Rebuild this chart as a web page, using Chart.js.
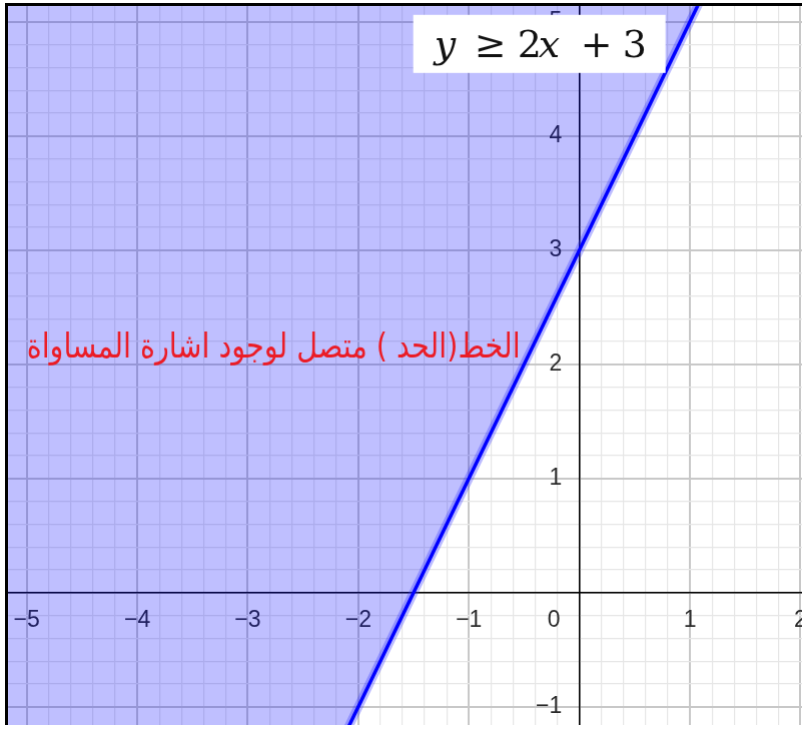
<!DOCTYPE html>
<html>
<head>
<meta charset="utf-8">
<script src="https://cdn.jsdelivr.net/npm/chart.js@4.4.0/dist/chart.umd.min.js"></script>
<style>
    html, body { margin: 0; padding: 0; background: #fff; }
    #frame {
        position: absolute; left: 5px; top: 3px;
        width: 794px; height: 719px; overflow: hidden;
        border-left: 3px solid #000; border-top: 3px solid #000;
    }
    #wrap { position: absolute; left: 0; top: 0; width: 794px; height: 719px; }
    #wrap canvas { display: block; }
</style>
</head>
<body>
<div id="frame"><div id="wrap"><canvas id="chart"></canvas></div></div>
<script>
// boundary line y = 2x + 3, two points taken past the visible window
var boundaryX = [-6, 2.5];
var boundaryY = [-9, 8];

// visible window and grid
var xRange = [-5.172, 2.02];
var yRange = [-1.167, 5.14];
var gridStep = 0.2;

// labelled ticks
var xTickLabels = [-5, -4, -3, -2, -1, 0, 1, 2];
var yTickLabels = [-1, 1, 2, 3, 4, 5];

var noteText = 'الخط(الحد ) متصل لوجود اشارة المساواة';

var FRAME_W = 794, FRAME_H = 719;

var boundaryPoints = boundaryX.map(function (x, i) {
    return {x: x, y: boundaryY[i]};
});

function isMajor(v) {
    return Math.abs(v - Math.round(v)) < 1e-6;
}

function fmt(n) {
    return n < 0 ? '\u2212' + (-n) : String(n);
}

function gridColor(ctx) {
    if (!ctx.tick) return '#e6e6e6';
    return isMajor(ctx.tick.value) ? '#c8c8c8' : '#e6e6e6';
}

function gridWidth(ctx) {
    if (!ctx.tick) return 1;
    return isMajor(ctx.tick.value) ? 2 : 1.2;
}

// title box and red note, drawn on top (positions relative to the plot frame)
var annotations = {
    id: 'annotations',
    afterDraw: function (chart) {
        var ctx = chart.ctx;
        var a = chart.chartArea;
        ctx.save();
        ctx.translate(a.left, a.top);

        ctx.fillStyle = '#fff';
        ctx.fillRect(405, 9, 252, 58);

        var pieces = [
            ['y', 'italic', 426],
            ['\u2265', 'normal', 466],
            ['2', 'normal', 509],
            ['x', 'italic', 530],
            ['+', 'normal', 572],
            ['3', 'normal', 614]
        ];
        ctx.fillStyle = '#111';
        ctx.textBaseline = 'alphabetic';
        ctx.textAlign = 'left';
        pieces.forEach(function (p) {
            ctx.font = p[1] + ' 38px "DejaVu Serif", "Liberation Serif", serif';
            ctx.fillText(p[0], p[2], 51);
        });

        ctx.direction = 'rtl';
        ctx.textAlign = 'right';
        ctx.font = '24px "DejaVu Sans", sans-serif';
        var w = ctx.measureText(noteText).width;
        var size = 24 * 493 / w;
        ctx.font = size.toFixed(2) + 'px "DejaVu Sans", sans-serif';
        ctx.fillStyle = 'rgb(235,28,38)';
        ctx.translate(512, 351);
        ctx.scale(1, 1.2);
        ctx.fillText(noteText, 0, 0);

        ctx.restore();
    }
};

var chart = new Chart(document.getElementById('chart').getContext('2d'), {
    type: 'line',
    data: {
        datasets: [
            {
                data: boundaryPoints,
                borderColor: '#0000ff',
                borderWidth: 3.5,
                pointRadius: 0,
                fill: false,
                order: 1
            },
            {
                data: boundaryPoints,
                borderColor: 'rgba(60,60,255,0.35)',
                borderWidth: 9,
                pointRadius: 0,
                fill: false,
                order: 2
            },
            {
                data: boundaryPoints,
                borderWidth: 0,
                pointRadius: 0,
                backgroundColor: 'rgba(0,0,255,0.25)',
                fill: 'end',
                order: 3
            }
        ]
    },
    options: {
        responsive: true,
        maintainAspectRatio: false,
        animation: false,
        events: [],
        layout: {autoPadding: false, padding: 0},
        plugins: {
            legend: {display: false},
            tooltip: {enabled: false}
        },
        scales: {
            x: {
                type: 'linear',
                position: {y: 0},
                min: xRange[0],
                max: xRange[1],
                grid: {color: gridColor, lineWidth: gridWidth, drawTicks: false},
                border: {color: '#000', width: 1.5},
                ticks: {
                    stepSize: gridStep,
                    includeBounds: false,
                    autoSkip: false,
                    maxRotation: 0,
                    padding: 14,
                    color: '#2a2a2a',
                    font: {family: '"Liberation Sans", Arial, sans-serif', size: 23},
                    callback: function (v) {
                        var n = Math.round(v);
                        if (!isMajor(v) || xTickLabels.indexOf(n) < 0) return '';
                        if (n === 0) return '0        ';
                        return fmt(n);
                    }
                }
            },
            y: {
                type: 'linear',
                position: {x: 0},
                min: yRange[0],
                max: yRange[1],
                grid: {color: gridColor, lineWidth: gridWidth, drawTicks: false},
                border: {color: '#000', width: 1.5},
                ticks: {
                    stepSize: gridStep,
                    includeBounds: false,
                    autoSkip: false,
                    color: '#2a2a2a',
                    font: {family: '"Liberation Sans", Arial, sans-serif', size: 23},
                    callback: function (v) {
                        var n = Math.round(v);
                        if (!isMajor(v) || yTickLabels.indexOf(n) < 0) return '';
                        return fmt(n) + '  \u2009';
                    }
                }
            }
        }
    },
    plugins: [annotations]
});

// the library keeps some room round the plot for its labels;
// grow the canvas past the frame so the plot itself fills the frame
function fitToFrame() {
    var a = chart.chartArea;
    var padL = a.left, padT = a.top;
    var padR = chart.width - a.right, padB = chart.height - a.bottom;
    var wrap = document.getElementById('wrap');
    wrap.style.left = (-padL) + 'px';
    wrap.style.top = (-padT) + 'px';
    wrap.style.width = (FRAME_W + padL + padR) + 'px';
    wrap.style.height = (FRAME_H + padT + padB) + 'px';
    chart.resize();
}

fitToFrame();
fitToFrame();
</script>
</body>
</html>
